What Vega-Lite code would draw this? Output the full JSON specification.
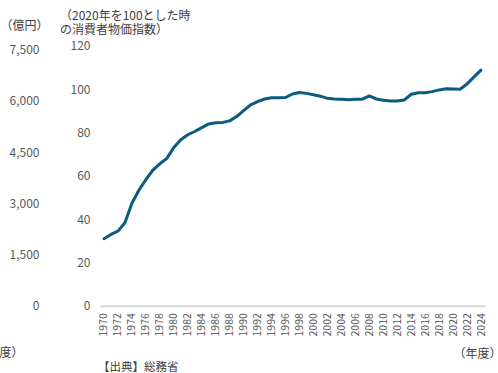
{
  "$schema": "https://vega.github.io/schema/vega-lite/v6.json",
  "width": 385,
  "height": 260,
  "autosize": {"type": "none"},
  "padding": {"left": 100, "top": 45.7, "right": 13, "bottom": 67.3},
  "background": "white",
  "config": {
    "view": {"stroke": null},
    "font": "Noto Sans CJK JP",
    "axis": {"grid": false, "ticks": false, "domain": false, "labelColor": "#595959", "titleColor": "#404040", "labelFont": "Noto Sans CJK JP", "titleFont": "Noto Sans CJK JP", "titleFontWeight": "normal"}
  },
  "data": {"values": [
    {"year": 1970, "cpi": 30.9}, {"year": 1971, "cpi": 32.9}, {"year": 1972, "cpi": 34.4}, {"year": 1973, "cpi": 38.3},
    {"year": 1974, "cpi": 47.3}, {"year": 1975, "cpi": 53.3}, {"year": 1976, "cpi": 58.2}, {"year": 1977, "cpi": 62.6},
    {"year": 1978, "cpi": 65.5}, {"year": 1979, "cpi": 68.0}, {"year": 1980, "cpi": 73.0}, {"year": 1981, "cpi": 76.6},
    {"year": 1982, "cpi": 78.9}, {"year": 1983, "cpi": 80.4}, {"year": 1984, "cpi": 82.2}, {"year": 1985, "cpi": 83.9},
    {"year": 1986, "cpi": 84.4}, {"year": 1987, "cpi": 84.6}, {"year": 1988, "cpi": 85.3}, {"year": 1989, "cpi": 87.3},
    {"year": 1990, "cpi": 90.0}, {"year": 1991, "cpi": 92.7}, {"year": 1992, "cpi": 94.2}, {"year": 1993, "cpi": 95.4},
    {"year": 1994, "cpi": 96.0}, {"year": 1995, "cpi": 96.0}, {"year": 1996, "cpi": 96.1}, {"year": 1997, "cpi": 97.7},
    {"year": 1998, "cpi": 98.4}, {"year": 1999, "cpi": 98.0}, {"year": 2000, "cpi": 97.4}, {"year": 2001, "cpi": 96.7},
    {"year": 2002, "cpi": 95.7}, {"year": 2003, "cpi": 95.4}, {"year": 2004, "cpi": 95.3}, {"year": 2005, "cpi": 95.0},
    {"year": 2006, "cpi": 95.3}, {"year": 2007, "cpi": 95.3}, {"year": 2008, "cpi": 96.8}, {"year": 2009, "cpi": 95.4},
    {"year": 2010, "cpi": 94.8}, {"year": 2011, "cpi": 94.5}, {"year": 2012, "cpi": 94.5}, {"year": 2013, "cpi": 94.9},
    {"year": 2014, "cpi": 97.6}, {"year": 2015, "cpi": 98.3}, {"year": 2016, "cpi": 98.3}, {"year": 2017, "cpi": 98.8},
    {"year": 2018, "cpi": 99.6}, {"year": 2019, "cpi": 100.1}, {"year": 2020, "cpi": 100.0}, {"year": 2021, "cpi": 99.9},
    {"year": 2022, "cpi": 102.3}, {"year": 2023, "cpi": 105.6}, {"year": 2024, "cpi": 108.7}
  ]},
  "layer": [
    {
      "mark": {"type": "line", "color": "#0b5a80", "strokeWidth": 3, "strokeCap": "round", "strokeJoin": "round"},
      "encoding": {
        "x": {"field": "year", "type": "quantitative",
          "scale": {"domain": [1969.43, 2024.57], "nice": false, "zero": false},
          "axis": {"values": [1970,1972,1974,1976,1978,1980,1982,1984,1986,1988,1990,1992,1994,1996,1998,2000,2002,2004,2006,2008,2010,2012,2014,2016,2018,2020,2022,2024],
            "format": "d", "labelAngle": 270, "labelPadding": 7, "labelFontSize": 10.5, "labelFlush": false,
            "domain": true, "domainColor": "#d9d9d9", "domainWidth": 2,
            "title": "（年度）", "titleFontSize": 12, "titleAlign": "right", "titleBaseline": "alphabetic", "titleAngle": 0,
            "titleX": 401, "titleY": 51.5}},
        "y": {"field": "cpi", "type": "quantitative",
          "scale": {"domain": [0, 120], "nice": false},
          "axis": {"orient": "left", "values": [0,20,40,60,80,100,120], "labelFontSize": 12, "labelPadding": 10,
            "title": ["（2020年を100とした時", "の消費者物価指数）"], "titleFontSize": 12, "titleLineHeight": 14,
            "titleAngle": 0, "titleAlign": "left", "titleBaseline": "alphabetic", "titleX": -40.5, "titleY": -26.2}}
      }
    },
    {
      "data": {"values": [{"v": 0}]},
      "mark": {"type": "point", "opacity": 0},
      "encoding": {
        "y": {"field": "v", "type": "quantitative",
          "scale": {"domain": [0, 7617], "nice": false},
          "axis": {"orient": "left", "offset": 52, "values": [0,1500,3000,4500,6000,7500], "format": ",d", "labelFontSize": 12, "labelPadding": 9,
            "title": "（億円）", "titleFontSize": 12, "titleAngle": 0, "titleAlign": "left", "titleBaseline": "alphabetic",
            "titleX": -48, "titleY": -16.2}}
      }
    },
    {
      "data": {"values": [{"w": 0}]},
      "mark": {"type": "point", "opacity": 0},
      "encoding": {
        "y": {"field": "w", "type": "quantitative",
          "scale": {"domain": [0, 1], "nice": false},
          "axis": {"orient": "left", "labels": false, "values": [],
            "title": "度）", "titleFontSize": 12, "titleAngle": 0, "titleAlign": "left", "titleBaseline": "alphabetic",
            "titleX": -101, "titleY": 310.8}}
      }
    },
    {
      "data": {"values": [{"u": 0}]},
      "mark": {"type": "point", "opacity": 0},
      "encoding": {
        "y": {"field": "u", "type": "quantitative",
          "scale": {"domain": [0, 1], "nice": false},
          "axis": {"orient": "left", "labels": false, "values": [],
            "title": "【出典】総務省", "titleFontSize": 11.5, "titleAngle": 0, "titleAlign": "left", "titleBaseline": "alphabetic",
            "titleX": -2.5, "titleY": 324.3}}
      }
    }
  ],
  "resolve": {"scale": {"y": "independent"}, "axis": {"y": "independent"}}
}
